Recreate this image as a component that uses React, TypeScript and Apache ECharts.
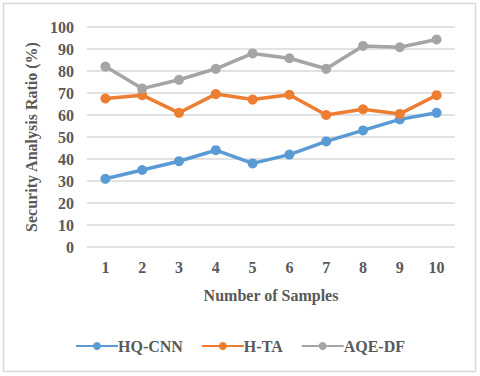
import React, { useEffect, useRef } from "react";
import * as echarts from "echarts";

const categories = ["1", "2", "3", "4", "5", "6", "7", "8", "9", "10"];
const hqCnn = [31, 35, 39, 44, 38, 42, 48, 53, 58, 61];
const hTa = [67.5, 69, 61, 69.5, 67, 69.2, 60, 62.6, 60.5, 69];
const aqeDf = [82, 72, 76, 81, 88, 85.8, 81, 91.4, 90.8, 94.3];
const seriesNames = ["HQ-CNN", "H-TA", "AQE-DF"];
const colors = ["#5B9BD5", "#ED7D31", "#A5A5A5"];

const font = "Liberation Serif";
const textColor = "#595959";

export default function App() {
  const ref = useRef<HTMLDivElement>(null);
  useEffect(() => {
    document.body.style.margin = "0";
    const chart = echarts.init(ref.current!, null, { renderer: "svg" });
    const data = [hqCnn, hTa, aqeDf];
    chart.setOption({
      animation: false,
      backgroundColor: "#fff",
      graphic: [
        {
          type: "rect",
          shape: { x: 3.5, y: 3.5, width: 472, height: 368 },
          style: { fill: "none", stroke: "#D9D9D9", lineWidth: 1.5 },
        },
      ],
      grid: { left: 87, right: 25, top: 27, bottom: 129, containLabel: false },
      xAxis: {
        type: "category",
        data: categories,
        boundaryGap: true,
        axisLine: { show: false },
        axisTick: { show: false },
        axisLabel: {
          color: textColor,
          fontFamily: font,
          fontWeight: "bold",
          fontSize: 16,
          margin: 12,
        },
        name: "Number of Samples",
        nameLocation: "middle",
        nameGap: 40,
        nameTextStyle: { color: textColor, fontFamily: font, fontWeight: "bold", fontSize: 16 },
      },
      yAxis: {
        type: "value",
        min: 0,
        max: 100,
        interval: 10,
        axisLine: { show: false },
        axisTick: { show: false },
        splitLine: { lineStyle: { color: "#D9D9D9", width: 1.5 } },
        axisLabel: {
          color: textColor,
          fontFamily: font,
          fontWeight: "bold",
          fontSize: 16,
          margin: 13,
        },
        name: "Security Analysis Ratio (%)",
        nameLocation: "middle",
        nameGap: 44,
        nameTextStyle: { color: textColor, fontFamily: font, fontWeight: "bold", fontSize: 16 },
      },
      legend: {
        bottom: 17,
        left: "center",
        itemWidth: 42,
        itemHeight: 10,
        itemGap: 18,
        data: seriesNames,
        textStyle: { color: textColor, fontFamily: font, fontWeight: "bold", fontSize: 16, padding: [0, 0, 0, -5] },
      },
      series: seriesNames.map((name, i) => ({
        name,
        type: "line",
        data: data[i],
        color: colors[i],
        symbol: "circle",
        symbolSize: 10,
        lineStyle: { width: 3.5 },
        itemStyle: { color: colors[i] },
      })),
    });
    return () => chart.dispose();
  }, []);
  return <div ref={ref} style={{ width: 480, height: 376 }} />;
}
